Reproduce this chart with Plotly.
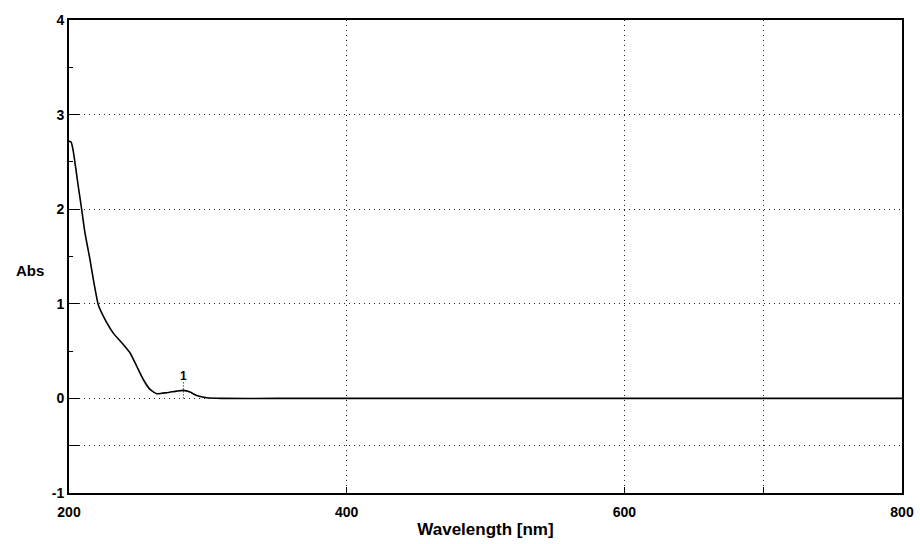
import plotly.graph_objects as go

# Spectrum data (wavelength nm, absorbance)
wavelength = [200, 201.5, 203, 205, 206.7, 209.1, 211.5, 215.1, 217.5, 221.1, 224.7, 231.9,
              239.1, 244, 248.8, 253.5, 258.4, 263.2, 270.4, 277.6, 282.4, 287.2, 292,
              299.2, 310, 350, 400, 450, 500, 550, 600, 650, 700, 750, 800]
absorbance = [2.72, 2.71, 2.62, 2.42, 2.24, 2.0, 1.75, 1.47, 1.26, 0.99, 0.87, 0.69,
              0.57, 0.48, 0.34, 0.20, 0.095, 0.05, 0.06, 0.077, 0.085, 0.067, 0.03,
              0.007, 0.0, 0.0, 0.0, 0.0, 0.0, 0.0, 0.0, 0.0, 0.0, 0.0, 0.0]

peak_x = [282.4]
peak_y = [0.085]
peak_label = ["1"]

x_tickvals = [200, 400, 600, 700, 800]
x_ticktext = ["200", "400", "600", "", "800"]
y_tickvals = [-1, -0.5, 0, 1, 2, 3, 4]
y_ticktext = ["-1", "", "0", "1", "2", "3", "4"]

FONT = "Liberation Sans, Arial, sans-serif"

fig = go.Figure()
fig.add_trace(go.Scatter(x=wavelength, y=absorbance, mode="lines",
                         line=dict(color="black", width=1.6, shape="spline", smoothing=0.5),
                         hoverinfo="skip", showlegend=False))

# peak marker
for px, py, lab in zip(peak_x, peak_y, peak_label):
    fig.add_trace(go.Scatter(x=[px, px], y=[0, py + 0.1], mode="lines",
                             line=dict(color="black", width=1, dash="1px,2px"),
                             showlegend=False, hoverinfo="skip"))
    fig.add_annotation(x=px, y=py + 0.15, text=lab, showarrow=False, yanchor="middle",
                       font=dict(family=FONT, size=12, color="black", weight="bold"))

fig.add_annotation(xref="paper", yref="paper", x=-0.047, y=0.471, text="Abs",
                   showarrow=False, xanchor="center", yanchor="middle",
                   font=dict(family=FONT, size=15, color="black", weight="bold"))

grid = dict(showgrid=True, gridcolor="#222", griddash="1px,4px", gridwidth=1)

fig.update_layout(
    width=920, height=544,
    margin=dict(l=69, r=18, t=20, b=51),
    paper_bgcolor="white", plot_bgcolor="white",
    font=dict(family=FONT, color="black"),
    xaxis=dict(range=[200, 800], tickvals=x_tickvals, ticktext=x_ticktext, **grid,
               showline=True, linecolor="black", linewidth=2, mirror=True,
               ticks="inside", ticklen=6, tickcolor="black", ticklabelstandoff=5,
               zeroline=False, automargin=False,
               tickfont=dict(family=FONT, size=14, color="black", weight="bold"),
               title=dict(text="Wavelength [nm]", standoff=4,
                          font=dict(family=FONT, size=17, color="black", weight="bold"))),
    yaxis=dict(range=[-1, 4], tickvals=y_tickvals, ticktext=y_ticktext, **grid,
               showline=True, linecolor="black", linewidth=2, mirror=True,
               ticks="inside", ticklen=10, tickcolor="black", automargin=False,
               minor=dict(dtick=0.5, ticks="inside", ticklen=4, tickcolor="black", showgrid=False),
               zeroline=False,
               tickfont=dict(family=FONT, size=14, color="black", weight="bold")),
)

fig.write_html("out.html")
